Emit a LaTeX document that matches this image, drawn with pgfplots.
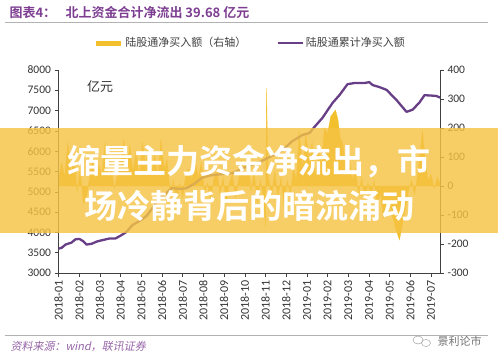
\documentclass[border=0pt]{standalone}
\usepackage{pgfplots}
\pgfplotsset{compat=1.18}
\usepackage{fontspec}
\setmainfont{Carlito}
\newfontfamily\cjk[BoldFont={Noto Sans CJK SC Bold}]{Noto Sans CJK SC}
\newfontfamily\cjkit[FakeSlant=0.2]{Noto Sans CJK SC}
\definecolor{gold}{RGB}{242,192,44}
\definecolor{lpurple}{RGB}{104,62,134}
\definecolor{tpurple}{RGB}{125,62,145}
\definecolor{banner}{RGB}{245,195,68}
\pgfplotstableread{
m v
0.00 20
0.15 80
0.30 30
0.45 150
0.60 40
0.75 110
0.90 -20
1.05 60
1.20 -60
1.35 -40
1.50 30
1.65 90
1.80 20
1.95 70
2.10 40
2.25 150
2.40 30
2.55 60
2.70 -10
2.85 40
3.00 80
3.15 160
3.30 60
3.45 140
3.60 50
3.75 120
3.90 30
4.05 150
4.20 80
4.35 140
4.50 40
4.65 110
4.80 30
4.95 160
5.10 60
5.25 90
5.40 -30
5.55 20
5.70 -60
5.85 10
6.00 -40
6.15 40
6.30 60
6.45 20
6.60 90
6.75 30
6.90 80
7.05 -20
7.20 10
7.35 -50
7.50 20
7.65 60
7.80 -30
7.95 30
8.10 -60
8.25 10
8.40 40
8.55 -40
8.70 20
8.85 90
9.00 30
9.15 100
9.30 -20
9.45 50
9.60 -60
9.75 20
9.90 -40
10.00 -140
10.05 338
10.12 40
10.30 -30
10.45 50
10.60 -40
10.75 30
10.90 -70
11.05 20
11.20 -30
11.35 60
11.50 20
11.62 190
11.80 60
11.95 180
12.10 90
12.25 150
12.40 40
12.55 120
12.70 80
12.85 200
13.00 180
13.15 240
13.38 262
13.50 230
13.60 170
13.75 140
13.90 60
14.05 100
14.20 20
14.35 60
14.50 -30
14.65 30
14.80 -60
14.95 10
15.10 -40
15.25 20
15.40 -80
15.55 -20
15.70 -110
15.85 -60
16.00 -60
16.15 -110
16.30 -150
16.47 -186
16.60 -140
16.75 -80
16.90 -20
17.05 20
17.20 -30
17.35 40
17.48 120
17.58 193
17.70 100
17.85 20
18.00 40
18.15 -10
18.30 30
18.43 10
}\flowtable
\pgfplotstableread{
m v
0.00 3600
0.15 3620
0.34 3700
0.63 3750
0.82 3830
1.01 3840
1.20 3780
1.35 3700
1.60 3720
1.88 3780
2.13 3810
2.46 3850
2.75 3850
3.00 3920
3.28 4010
3.57 4180
3.91 4280
4.25 4400
4.54 4600
4.88 4850
5.22 4970
5.46 5090
5.94 5070
6.18 5090
6.57 5200
6.91 5340
7.29 5400
7.78 5430
8.40 5460
8.99 5600
9.71 5730
10.29 5880
10.82 6030
11.30 6250
11.79 6400
12.13 6450
12.37 6600
12.75 6820
13.24 7190
13.57 7380
13.96 7650
14.30 7680
14.78 7680
15.02 7700
15.17 7630
15.50 7580
15.85 7510
16.33 7260
16.81 6970
17.10 7020
17.44 7200
17.68 7380
18.02 7370
18.26 7360
18.43 7320
}\cumtable
\begin{document}
\begin{tikzpicture}[x=1pt,y=1pt]
\useasboundingbox (0,0) rectangle (498,362);
% right axis: daily flow
\begin{axis}[
  scale only axis, width=381.5pt, height=203pt,
  at={(58.5pt,89pt)}, anchor=south west,
  xmin=0, xmax=18.43, ymin=-300, ymax=400,
  axis x line=none, axis y line*=right,
  ytick={-300,-200,...,400},
  yticklabels={-300,-200,-100,0,100,200,300,400},
  yticklabel style={font=\fontsize{11.5}{13}\selectfont, text=black!80},
  tick align=outside, major tick length=4pt,
  tick style={black!75, line width=0.6pt},
  axis line style={black!75, line width=0.6pt},
]
\addplot[fill=gold, draw=gold, line width=0.3pt] table[x=m,y=v]{\flowtable} \closedcycle;
\end{axis}
% left axis: cumulative
\begin{axis}[
  scale only axis, width=381.5pt, height=203pt,
  at={(58.5pt,89pt)}, anchor=south west,
  xmin=0, xmax=18.43, ymin=3000, ymax=8000,
  axis x line*=bottom, axis y line*=left,
  ytick={3000,3500,...,8000},
  yticklabels={3000,3500,4000,4500,5000,5500,6000,6500,7000,7500,8000},
  yticklabel style={font=\fontsize{11.5}{13}\selectfont, text=black!80},
  xtick={0,1,...,18},
  xticklabels={2018-01,2018-02,2018-03,2018-04,2018-05,2018-06,2018-07,2018-08,2018-09,2018-10,2018-11,2018-12,2019-01,2019-02,2019-03,2019-04,2019-05,2019-06,2019-07},
  xticklabel style={rotate=90, anchor=east, font=\fontsize{12}{13}\selectfont, text=black!80},
  tick align=outside, major tick length=4pt,
  tick style={black!75, line width=0.6pt},
  axis line style={black!75, line width=0.6pt},
  legend columns=2,
  legend style={at={(0.502,1.133)}, anchor=center, draw=none, fill=none,
    font=\cjk\fontsize{11}{13}\selectfont, text=black!75,
    /tikz/every even column/.append style={column sep=28pt}},
  legend cell align=left,
]
\addlegendimage{legend image code/.code={\draw[line width=5pt, gold] (0pt,0pt) -- (25pt,0pt);}}
\addlegendentry{陆股通净买入额（右轴）}
\addplot[lpurple, line width=2.3pt, line join=round,
  legend image code/.code={\draw[line width=2.5pt, lpurple] (0pt,0pt) -- (25pt,0pt);}]
  table[x=m,y=v]{\cumtable};
\addlegendentry{陆股通累计净买入额}
\node[font=\cjk\fontsize{13}{15}\selectfont, text=black!80] at (rel axis cs:0.109,0.916) {亿元};
\end{axis}
% title
\node[anchor=west, font=\cjk\bfseries\fontsize{13}{15}\selectfont, text=tpurple] at (6,349) {图表4：};
\node[anchor=west, font=\cjk\bfseries\fontsize{13}{15}\selectfont, text=tpurple] at (62,349) {北上资金合计净流出 39.68 亿元};
\draw[black!30, line width=0.6pt] (5,340) -- (488,340);
% footer
\draw[black!30, line width=0.6pt] (5,27) -- (488,27);
\node[anchor=west, font=\cjkit\fontsize{11}{13}\selectfont, text=tpurple!80] at (7,16) {资料来源：wind，联讯证券};
\node[anchor=west, font=\cjk\fontsize{11}{13}\selectfont, text=black!55] at (434,21) {景利论市};
\draw[black!35, line width=0.5pt] (418,22) ellipse (5 and 4);
\draw[black!35, line width=0.5pt] (426,19) ellipse (4.5 and 3.5);
% banner overlay
\fill[banner, opacity=0.82] (0,129) rectangle (498,234);
\node[font=\cjk\bfseries\fontsize{33}{36}\selectfont, text=white] at (249,200) {缩量主力资金净流出，市};
\node[font=\cjk\bfseries\fontsize{33}{36}\selectfont, text=white] at (249,156) {场冷静背后的暗流涌动};
\end{tikzpicture}
\end{document}
